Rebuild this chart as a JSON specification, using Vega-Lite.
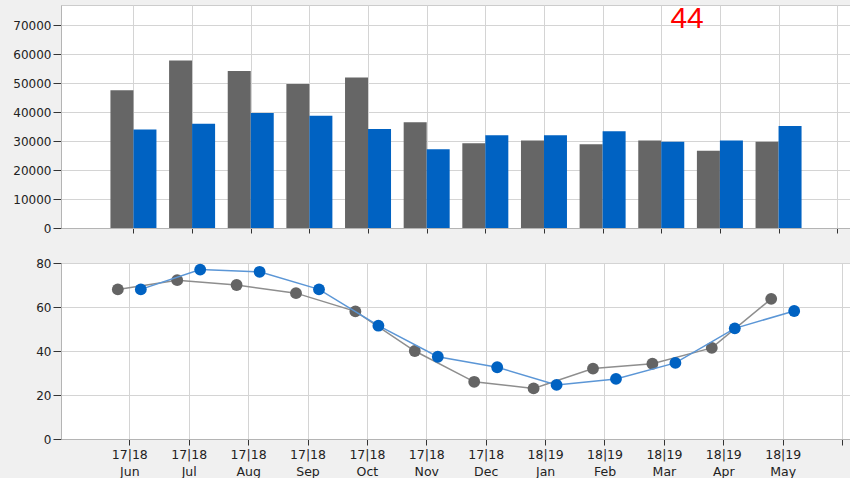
{
  "$schema": "https://vega.github.io/schema/vega-lite/v6.json",
  "background": "#f0f0f0",
  "padding": {"left": 0, "top": 3, "right": 0, "bottom": 0},
  "config": {
    "font": "DejaVu Sans",
    "view": {"fill": "white", "stroke": "#cccccc"},
    "axis": {
      "gridColor": "#d4d4d4",
      "domainColor": "#b4b4b4",
      "tickColor": "#333333",
      "labelColor": "#222222",
      "labelFontSize": 12,
      "title": null
    }
  },
  "datasets": {
    "bars": [
      {"idx": 0, "month": "Jun", "series": "previous", "value": 47600},
      {"idx": 0, "month": "Jun", "series": "current", "value": 34000},
      {"idx": 1, "month": "Jul", "series": "previous", "value": 57800},
      {"idx": 1, "month": "Jul", "series": "current", "value": 36000},
      {"idx": 2, "month": "Aug", "series": "previous", "value": 54200},
      {"idx": 2, "month": "Aug", "series": "current", "value": 39700},
      {"idx": 3, "month": "Sep", "series": "previous", "value": 49700},
      {"idx": 3, "month": "Sep", "series": "current", "value": 38800},
      {"idx": 4, "month": "Oct", "series": "previous", "value": 52000},
      {"idx": 4, "month": "Oct", "series": "current", "value": 34200},
      {"idx": 5, "month": "Nov", "series": "previous", "value": 36500},
      {"idx": 5, "month": "Nov", "series": "current", "value": 27200},
      {"idx": 6, "month": "Dec", "series": "previous", "value": 29300},
      {"idx": 6, "month": "Dec", "series": "current", "value": 32000},
      {"idx": 7, "month": "Jan", "series": "previous", "value": 30200},
      {"idx": 7, "month": "Jan", "series": "current", "value": 32000},
      {"idx": 8, "month": "Feb", "series": "previous", "value": 28900},
      {"idx": 8, "month": "Feb", "series": "current", "value": 33400},
      {"idx": 9, "month": "Mar", "series": "previous", "value": 30200},
      {"idx": 9, "month": "Mar", "series": "current", "value": 29800},
      {"idx": 10, "month": "Apr", "series": "previous", "value": 26700},
      {"idx": 10, "month": "Apr", "series": "current", "value": 30200},
      {"idx": 11, "month": "May", "series": "previous", "value": 29800},
      {"idx": 11, "month": "May", "series": "current", "value": 35200}
    ],
    "lines": [
      {"idx": 0, "month": "Jun", "series": "previous", "value": 68},
      {"idx": 0, "month": "Jun", "series": "current", "value": 68},
      {"idx": 1, "month": "Jul", "series": "previous", "value": 72.2},
      {"idx": 1, "month": "Jul", "series": "current", "value": 77},
      {"idx": 2, "month": "Aug", "series": "previous", "value": 70},
      {"idx": 2, "month": "Aug", "series": "current", "value": 76},
      {"idx": 3, "month": "Sep", "series": "previous", "value": 66.3},
      {"idx": 3, "month": "Sep", "series": "current", "value": 68},
      {"idx": 4, "month": "Oct", "series": "previous", "value": 58},
      {"idx": 4, "month": "Oct", "series": "current", "value": 51.5},
      {"idx": 5, "month": "Nov", "series": "previous", "value": 40},
      {"idx": 5, "month": "Nov", "series": "current", "value": 37.4},
      {"idx": 6, "month": "Dec", "series": "previous", "value": 26},
      {"idx": 6, "month": "Dec", "series": "current", "value": 32.6},
      {"idx": 7, "month": "Jan", "series": "previous", "value": 23},
      {"idx": 7, "month": "Jan", "series": "current", "value": 24.6},
      {"idx": 8, "month": "Feb", "series": "previous", "value": 32},
      {"idx": 8, "month": "Feb", "series": "current", "value": 27.3},
      {"idx": 9, "month": "Mar", "series": "previous", "value": 34.2},
      {"idx": 9, "month": "Mar", "series": "current", "value": 34.6},
      {"idx": 10, "month": "Apr", "series": "previous", "value": 41.4},
      {"idx": 10, "month": "Apr", "series": "current", "value": 50.3},
      {"idx": 11, "month": "May", "series": "previous", "value": 63.7},
      {"idx": 11, "month": "May", "series": "current", "value": 58.2}
    ],
    "note": [{"label": "44", "idx": 9.44, "value": 72200}]
  },
  "spacing": 21,
  "vconcat": [
    {
      "width": 790,
      "height": 223,
      "encoding": {
        "x": {
          "field": "idx",
          "type": "quantitative",
          "scale": {"domain": [-1.15, 12.15], "nice": false, "zero": false},
          "axis": {
            "values": [0, 1, 2, 3, 4, 5, 6, 7, 8, 9, 10, 11, 12],
            "labels": false,
            "tickSize": 5,
            "minExtent": 5,
            "maxExtent": 5
          }
        },
        "y": {
          "field": "value",
          "type": "quantitative",
          "scale": {"domain": [0, 77000], "nice": false},
          "axis": {
            "values": [0, 10000, 20000, 30000, 40000, 50000, 60000, 70000],
            "format": "d",
            "tickSize": 8,
            "labelPadding": 2,
            "minExtent": 60,
            "maxExtent": 60
          }
        }
      },
      "layer": [
        {
          "data": {"name": "bars"},
          "transform": [{"filter": "datum.series == 'previous'"}],
          "mark": {"type": "bar", "size": 23, "xOffset": -11.5, "color": "#666666"}
        },
        {
          "data": {"name": "bars"},
          "transform": [{"filter": "datum.series == 'current'"}],
          "mark": {"type": "bar", "size": 23, "xOffset": 11.5, "color": "#0062c2"}
        },
        {
          "data": {"name": "note"},
          "mark": {"type": "text", "color": "#ff0000", "fontSize": 30, "font": "Liberation Sans", "baseline": "middle", "align": "center"},
          "encoding": {
            "text": {"field": "label", "type": "nominal"}
          }
        }
      ]
    },
    {
      "width": 790,
      "height": 176,
      "data": {"name": "lines"},
      "encoding": {
        "x": {
          "field": "idx",
          "type": "quantitative",
          "scale": {"domain": [-1.15, 12.15], "nice": false, "zero": false},
          "axis": {
            "values": [0, 1, 2, 3, 4, 5, 6, 7, 8, 9, 10, 11, 12],
            "tickSize": 6,
            "labelPadding": 3,
            "labelFontSize": 12.5,
            "labelLineHeight": 17,
            "labelOverlap": false,
            "labelBound": false,
            "labelExpr": "datum.value < 12 ? [datum.value < 7 ? '17|18' : '18|19', ['Jun','Jul','Aug','Sep','Oct','Nov','Dec','Jan','Feb','Mar','Apr','May'][datum.value]] : ''"
          }
        },
        "y": {
          "field": "value",
          "type": "quantitative",
          "scale": {"domain": [0, 80], "nice": false},
          "axis": {
            "values": [0, 20, 40, 60, 80],
            "tickSize": 8,
            "labelPadding": 2,
            "minExtent": 60,
            "maxExtent": 60
          }
        }
      },
      "layer": [
        {
          "transform": [{"filter": "datum.series == 'previous'"}],
          "mark": {"type": "line", "xOffset": -11.5, "color": "#8e8e8e", "strokeWidth": 1.5}
        },
        {
          "transform": [{"filter": "datum.series == 'previous'"}],
          "mark": {"type": "point", "filled": true, "opacity": 1, "size": 140, "xOffset": -11.5, "color": "#646464"}
        },
        {
          "transform": [{"filter": "datum.series == 'current'"}],
          "mark": {"type": "line", "xOffset": 11.5, "color": "#5b96d6", "strokeWidth": 1.5}
        },
        {
          "transform": [{"filter": "datum.series == 'current'"}],
          "mark": {"type": "point", "filled": true, "opacity": 1, "size": 140, "xOffset": 11.5, "color": "#0062c2"}
        }
      ]
    }
  ]
}
